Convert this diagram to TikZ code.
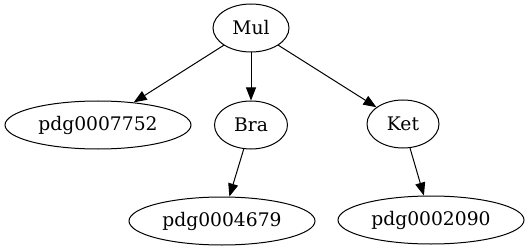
\documentclass[tikz,border=0pt]{standalone}
\usepackage{fontspec}
\setmainfont{DejaVu Serif}
\usepackage{tikz}
\usetikzlibrary{shapes.geometric,arrows.meta,positioning}

\begin{document}
\begin{tikzpicture}[x=1pt, y=-1pt,
    treenode/.style={ellipse, draw, line width=1pt, inner sep=0pt,
        minimum height=48pt, font=\fontsize{18.7}{20}\selectfont},
    smallnode/.style={treenode, minimum width=76pt},
    widenode/.style={treenode, minimum width=186pt},
    edge/.style={line width=1pt, -{Triangle[length=13pt,width=10pt]}}]
\useasboundingbox (0,0) rectangle (529,251);
% nodes
\node[smallnode] (mul) at (251,28) {Mul};
\node[widenode] (pdg7752) at (98,125) {pdg0007752};
\node[smallnode, minimum width=73pt] (bra) at (251,125) {Bra};
\node[smallnode, minimum width=72pt] (ket) at (403,124) {Ket};
\node[widenode] (pdg4679) at (222,221) {pdg0004679};
\node[widenode] (pdg2090) at (431,220) {pdg0002090};
% edges
\draw[edge] (mul) -- (pdg7752);
\draw[edge] (mul) -- (bra);
\draw[edge] (mul) -- (ket);
\draw[edge] (bra) -- (pdg4679);
\draw[edge] (ket) -- (pdg2090);
\end{tikzpicture}
\end{document}
